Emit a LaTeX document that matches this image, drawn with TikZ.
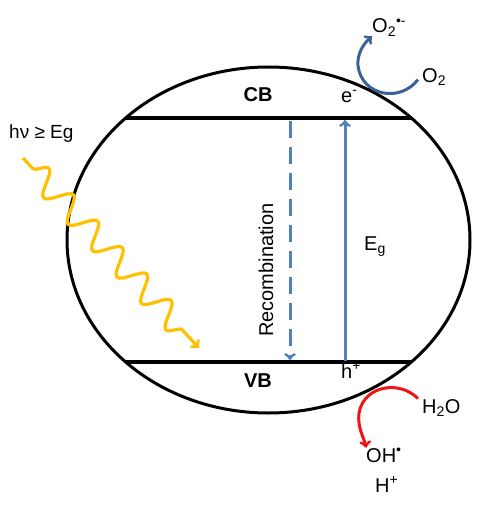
\documentclass[tikz,border=0pt]{standalone}
\usepackage{fontspec}
\setmainfont{Liberation Sans}
\usepackage{tikz}
\usetikzlibrary{decorations.pathmorphing}
\definecolor{bandblue}{RGB}{79,129,189}
\definecolor{oxblue}{RGB}{58,98,148}
\definecolor{lightyellow}{RGB}{255,192,0}
\definecolor{waterred}{RGB}{240,20,20}
\newcommand{\lblsize}{\fontsize{20}{24}\selectfont}

\begin{document}
\begin{tikzpicture}[x=1pt, y=-1pt,
  lbl/.style={font=\lblsize, inner sep=0pt},
  band/.style={line width=3.6pt},
  bandarrow/.style={bandblue, line width=3pt, ->},
  turn/.style={line width=3pt, ->}]

\useasboundingbox (0,0) rectangle (499,511);

\draw[line width=3pt] (268.5,240) ellipse [x radius=201.5, y radius=173];

% bands
\coordinate (cbL) at (125,118);
\coordinate (cbR) at (411,118);
\coordinate (vbL) at (125,362);
\coordinate (vbR) at (411,362);
\draw[band] (cbL) -- (cbR);
\draw[band] (vbL) -- (vbR);

\node[lbl, font=\lblsize\bfseries, anchor=base] (cb) at (258,101) {CB};
\node[lbl, font=\lblsize\bfseries, anchor=base] (vb) at (258,387) {VB};
\node[lbl, anchor=base west] (el) at (341,102) {e\textsuperscript{-}};
\node[lbl, anchor=base west] (hole) at (341,378) {h\textsuperscript{+}};

% transitions
\coordinate (recTop) at (290,121);
\coordinate (recBot) at (290,360);
\coordinate (exBot) at (345,361);
\coordinate (exTop) at (345,120);
\draw[bandarrow, dash pattern=on 17pt off 9pt] (recTop) -- (recBot);
\draw[bandarrow] (exBot) -- (exTop);
\node[lbl, rotate=90] (rec) at (266,270) {Recombination};
\node[lbl, anchor=base west] (eg) at (364,250) {E\textsubscript{g}};

% light
\node[lbl, font=\fontsize{19}{22}\selectfont, anchor=base west] (light) at (9,138) {hν ≥ Eg};
\coordinate (phStart) at (23,158);
\coordinate (phEnd) at (199,348);
\draw[lightyellow, line width=3.2pt, ->,
  decoration={snake, segment length=36pt, amplitude=12pt, pre length=14pt, post length=16pt},
  decorate] (phStart) -- (phEnd);

% reduction
\node[lbl, anchor=base west] (oxa) at (372,33) {O\textsubscript{2}\textsuperscript{•-}};
\node[lbl, anchor=base west] (oxb) at (422,82) {O\textsubscript{2}};
\draw[turn, oxblue] (oxb.west) ++(-4,3) .. controls (400,103) and (362,96) .. (358,66)
  .. controls (357,54) and (363,44) .. (oxa.south west);

% oxidation
\node[lbl, anchor=base west] (water) at (422,413) {H\textsubscript{2}O};
\node[lbl, anchor=base west] (hydroxyl) at (366,462) {OH\textsuperscript{•}};
\node[lbl, anchor=base west] (proton) at (375,492) {H\textsuperscript{+}};
\draw[turn, waterred] (water.west) ++(-4,-9) .. controls (400,380) and (364,385) .. (359,413)
  .. controls (357,428) and (365,440) .. (hydroxyl.north west);

\end{tikzpicture}
\end{document}
